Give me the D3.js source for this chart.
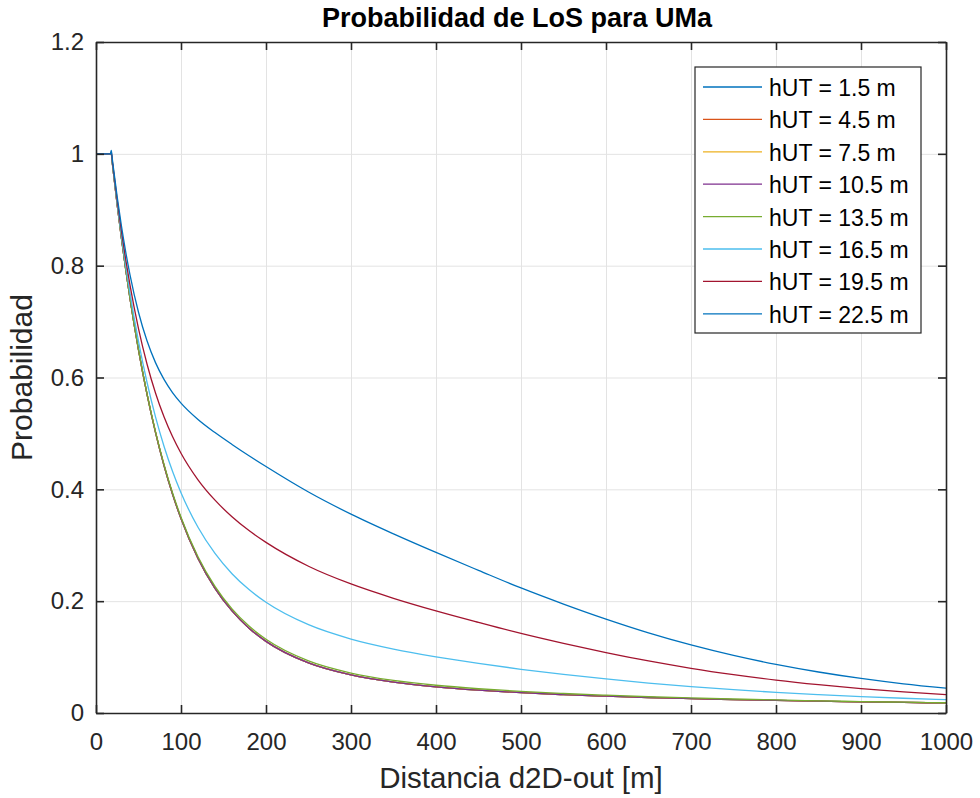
<!DOCTYPE html>
<html>
<head>
<meta charset="utf-8">
<script src="https://cdn.jsdelivr.net/npm/d3@7"></script>
<style>
  body { margin: 0; background: #fff; }
  text { font-family: "Liberation Sans", Arial, sans-serif; }
</style>
</head>
<body>
<script>
// distancias (m) y probabilidades
var dist = [0, 17, 18, 19, 20, 25, 30, 35, 40, 50, 60, 70, 80, 90, 100, 120, 140, 160, 180, 200,
  250, 300, 350, 400, 450, 500, 550, 600, 650, 700, 750, 800, 850, 900, 950, 1000];

// hUT = 1.5, 4.5, 7.5 y 10.5 m dan la misma curva
var pBajo = [1, 1, 1, 0.9863, 0.9728, 0.9083, 0.8485, 0.7930, 0.7415, 0.6494, 0.5701, 0.5017, 0.4427, 0.3917,
  0.3477, 0.2765, 0.2230, 0.1825, 0.1517, 0.1281, 0.0895, 0.0680, 0.0551, 0.0467, 0.0408, 0.0363,
  0.0329, 0.0301, 0.0277, 0.0257, 0.0240, 0.0225, 0.0212, 0.0200, 0.0189, 0.0180];
var p13_5 = [1, 1, 1.0001, 0.9864, 0.9729, 0.9085, 0.8488, 0.7934, 0.7420, 0.6502, 0.5712, 0.5032, 0.4446, 0.3939,
  0.3502, 0.2795, 0.2264, 0.1861, 0.1554, 0.1319, 0.0932, 0.0715, 0.0583, 0.0496, 0.0434, 0.0386,
  0.0349, 0.0318, 0.0291, 0.0269, 0.0250, 0.0233, 0.0218, 0.0205, 0.0193, 0.0183];
var p16_5 = [1, 1, 1.0013, 0.9878, 0.9746, 0.9114, 0.8534, 0.8000, 0.7509, 0.6645, 0.5915, 0.5296, 0.4771, 0.4323,
  0.3939, 0.3321, 0.2853, 0.2491, 0.2207, 0.1980, 0.1579, 0.1323, 0.1144, 0.1004, 0.0887, 0.0782,
  0.0691, 0.0609, 0.0535, 0.0472, 0.0417, 0.0369, 0.0329, 0.0294, 0.0264, 0.0239];
var p19_5 = [1, 1, 1.0034, 0.9902, 0.9773, 0.9162, 0.8608, 0.8106, 0.7653, 0.6875, 0.6242, 0.5724, 0.5298, 0.4944,
  0.4646, 0.4171, 0.3806, 0.3510, 0.3262, 0.3051, 0.2625, 0.2308, 0.2052, 0.1827, 0.1621, 0.1423,
  0.1245, 0.1081, 0.0931, 0.0800, 0.0687, 0.0589, 0.0507, 0.0437, 0.0378, 0.0330];
var p22_5 = [1, 1, 1.0060, 0.9932, 0.9807, 0.9222, 0.8702, 0.8242, 0.7836, 0.7167, 0.6656, 0.6266, 0.5966, 0.5731,
  0.5543, 0.5250, 0.5015, 0.4803, 0.4601, 0.4408, 0.3952, 0.3556, 0.3203, 0.2871, 0.2551, 0.2236,
  0.1948, 0.1679, 0.1433, 0.1217, 0.1030, 0.0869, 0.0733, 0.0618, 0.0522, 0.0445];

var etiquetas = ["hUT = 1.5 m", "hUT = 4.5 m", "hUT = 7.5 m", "hUT = 10.5 m",
  "hUT = 13.5 m", "hUT = 16.5 m", "hUT = 19.5 m", "hUT = 22.5 m"];
var valores = [pBajo, pBajo, pBajo, pBajo, p13_5, p16_5, p19_5, p22_5];
var colores = ["#0072BD", "#D95319", "#EDB120", "#7E2F8E", "#77AC30", "#4DBEEE", "#A2142F", "#0072BD"];

var xTicks = [0, 100, 200, 300, 400, 500, 600, 700, 800, 900, 1000];
var yTicks = [0, 0.2, 0.4, 0.6, 0.8, 1, 1.2];

// margenes
var margin = { top: 42, right: 34, bottom: 85, left: 96 },
  width = 980 - margin.left - margin.right,
  height = 798 - margin.top - margin.bottom;

var svg = d3.select("body").append("svg")
    .attr("width", 980)
    .attr("height", 798);

var g = svg.append("g")
    .attr("transform", "translate(" + margin.left + "," + margin.top + ")");

var x = d3.scaleLinear().domain([0, 1000]).range([0, width]);
var y = d3.scaleLinear().domain([0, 1.2]).range([height, 0]);

// rejilla
g.append("g")
    .attr("class", "grid")
    .attr("transform", "translate(0," + height + ")")
    .call(d3.axisBottom(x).tickValues(xTicks).tickSize(-height).tickFormat(""))
    .call(function(s) { s.select(".domain").remove(); });
g.append("g")
    .attr("class", "grid")
    .call(d3.axisLeft(y).tickValues(yTicks).tickSize(-width).tickFormat(""))
    .call(function(s) { s.select(".domain").remove(); });
g.selectAll(".grid line").attr("stroke", "#e3e3e3").attr("stroke-width", 1);

// curvas
var linea = d3.line()
    .x(function(d) { return x(d[0]); })
    .y(function(d) { return y(d[1]); })
    .curve(d3.curveMonotoneX);

valores.forEach(function(serie, i) {
  g.append("path")
      .datum(dist.map(function(d, k) { return [d, serie[k]]; }))
      .attr("fill", "none")
      .attr("stroke", colores[i])
      .attr("stroke-width", 1.3)
      .attr("d", linea);
});

// ejes (caja con ticks hacia dentro)
var estiloEje = function(s) {
  s.selectAll("path").attr("stroke", "#262626").attr("stroke-width", 1.6);
  s.selectAll("line").attr("stroke", "#262626").attr("stroke-width", 1.6);
  s.selectAll("text").attr("fill", "#262626").style("font-size", "24px");
};

g.append("g")
    .attr("transform", "translate(0," + height + ")")
    .call(d3.axisBottom(x).tickValues(xTicks).tickSizeInner(-8).tickSizeOuter(0).tickPadding(20)
      .tickFormat(d3.format("d")))
    .call(estiloEje);
g.append("g")
    .call(d3.axisTop(x).tickValues(xTicks).tickSizeInner(-8).tickSizeOuter(0).tickFormat(""))
    .call(estiloEje);
g.append("g")
    .call(d3.axisLeft(y).tickValues(yTicks).tickSizeInner(-8).tickSizeOuter(0).tickPadding(12)
      .tickFormat(function(d) { return String(+d.toFixed(1)); }))
    .call(estiloEje);
g.append("g")
    .attr("transform", "translate(" + width + ",0)")
    .call(d3.axisRight(y).tickValues(yTicks).tickSizeInner(-8).tickSizeOuter(0).tickFormat(""))
    .call(estiloEje);

// titulo y etiquetas
svg.append("text")
    .attr("x", margin.left + width / 2 - 4)
    .attr("y", 27)
    .attr("text-anchor", "middle")
    .style("font-size", "27px")
    .style("font-weight", "bold")
    .attr("fill", "#000")
    .text("Probabilidad de LoS para UMa");

svg.append("text")
    .attr("x", margin.left + width / 2)
    .attr("y", 788)
    .attr("text-anchor", "middle")
    .style("font-size", "29.5px")
    .attr("fill", "#262626")
    .text("Distancia d2D-out [m]");

svg.append("text")
    .attr("transform", "translate(32," + (margin.top + height / 2) + ") rotate(-90)")
    .attr("text-anchor", "middle")
    .style("font-size", "30px")
    .attr("fill", "#262626")
    .text("Probabilidad");

// leyenda
var leyenda = svg.append("g").attr("transform", "translate(695,67)");
leyenda.append("rect")
    .attr("width", 226)
    .attr("height", 266)
    .attr("fill", "#fff")
    .attr("stroke", "#262626")
    .attr("stroke-width", 1.2);

etiquetas.forEach(function(t, i) {
  var yy = 20 + i * 32.4;
  leyenda.append("line")
      .attr("x1", 8).attr("x2", 67)
      .attr("y1", yy).attr("y2", yy)
      .attr("stroke", colores[i])
      .attr("stroke-width", 1.3);
  leyenda.append("text")
      .attr("x", 74)
      .attr("y", yy + 9)
      .style("font-size", "23px")
      .attr("fill", "#000")
      .text(t);
});
</script>
</body>
</html>
